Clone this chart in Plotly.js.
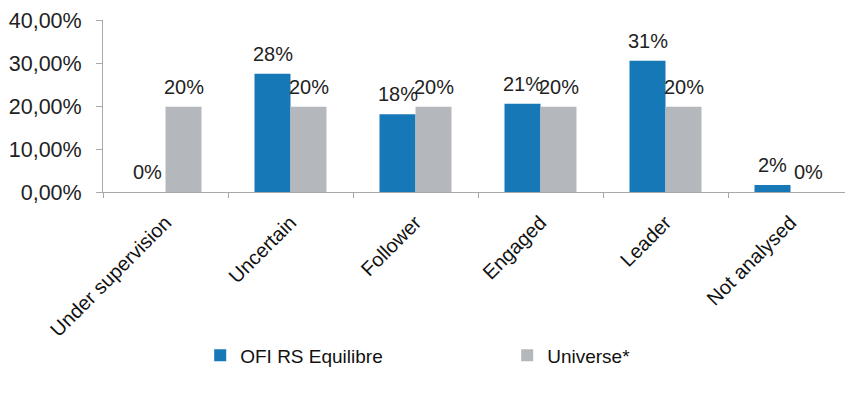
<!DOCTYPE html>
<html><head><meta charset="utf-8">
<script src="https://cdn.plot.ly/plotly-3.0.1.min.js"></script>
<style>html,body{margin:0;padding:0;background:#fff}#c{width:845px;height:400px}</style>
</head><body><div id="c"></div>
<script>
const categories = ["Under supervision","Uncertain","Follower","Engaged","Leader","Not analysed"];
const ofiValues = [0, 27.5, 18.1, 20.5, 30.5, 1.6];
const universeValues = [19.8, 19.8, 19.8, 19.8, 19.8, 0];
const seriesNames = ["OFI RS Equilibre", "Universe*"];
const yTickVals = [0, 10, 20, 30, 40];
const yTickText = ["0,00%", "10,00%", "20,00%", "30,00%", "40,00%"];

const fmt = v => Math.round(v) + "%";
const traces = [
  {type:"bar", name:seriesNames[0], x:categories, y:ofiValues,
   marker:{color:"#1778b8"}, hoverinfo:"none"},
  {type:"bar", name:seriesNames[1], x:categories, y:universeValues,
   marker:{color:"#b4b7bc"}, hoverinfo:"none"}
];
const annotations = [];
categories.forEach((c,i)=>{
  annotations.push({x:c, y:ofiValues[i], xref:"x", yref:"y", text:fmt(ofiValues[i]),
    showarrow:false, xshift:-18, yanchor:"bottom", yshift:7,
    font:{family:"Liberation Sans, Arial", size:20, color:"#222"}});
  annotations.push({x:c, y:universeValues[i], xref:"x", yref:"y", text:fmt(universeValues[i]),
    showarrow:false, xshift:18, yanchor:"bottom", yshift:7,
    font:{family:"Liberation Sans, Arial", size:20, color:"#222"}});
});
const layout = {
  width:845, height:400,
  margin:{l:103, r:0, t:20, b:208},
  paper_bgcolor:"#fff", plot_bgcolor:"#fff",
  barmode:"group", bargap:0.424, bargroupgap:0,
  font:{family:"Liberation Sans, Arial", size:20, color:"#222"},
  xaxis:{type:"category", range:[-0.5, 5.436], showline:true, linecolor:"#a8a8a8", linewidth:1,
    ticks:"outside", tickson:"boundaries", ticklen:5, tickcolor:"#a8a8a8",
    ticklabelstandoff:10,
    tickangle:-45, tickfont:{size:20, color:"#111"}, showgrid:false, fixedrange:true},
  yaxis:{range:[0,40], tickvals:yTickVals, ticktext:yTickText, showline:true, linecolor:"#a8a8a8",
    ticks:"outside", ticklen:6, tickcolor:"#a8a8a8", showgrid:false, zeroline:false,
    ticklabelstandoff:10, tickfont:{size:21.5, color:"#222"}},
  showlegend:true,
  legend:{orientation:"h", x:0.131, xanchor:"left", y:-0.95, yanchor:"middle",
    entrywidth:262, entrywidthmode:"pixels",
    font:{family:"Liberation Sans, Arial", size:19, color:"#111"}},
  annotations:annotations
};
Plotly.newPlot("c", traces, layout, {displayModeBar:false, staticPlot:true});
</script></body></html>
